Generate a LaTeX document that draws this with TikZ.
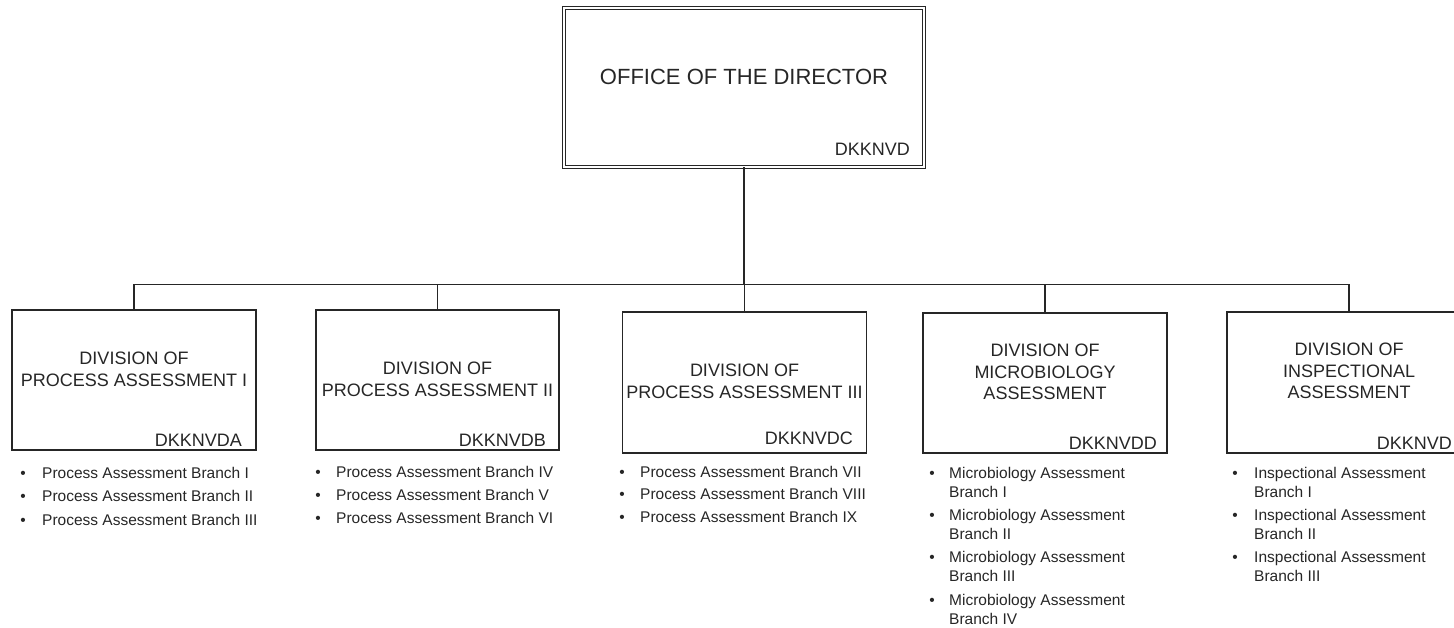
\documentclass[tikz,border=0pt]{standalone}
\usepackage{fontspec}
\setmainfont{Liberation Sans}
\newcommand{\stackL}[1]{\begin{tabular}[t]{@{}l@{}}#1\end{tabular}}
\newcommand{\stackC}[1]{\begin{tabular}[t]{@{}c@{}}#1\end{tabular}}
\begin{document}
\begin{tikzpicture}[x=1pt,y=-1pt,
  line/.style={draw=black!85, line width=1.5pt},
  divbox/.style={line, inner sep=0pt, outer sep=0pt, minimum width=244pt, minimum height=140pt},
  topbox/.style={draw=black!85, double, double distance=1.8pt, line width=1pt, inner sep=0pt, outer sep=0pt, minimum width=360.4pt, minimum height=159.4pt},
  ttl/.style={font=\fontsize{22}{26}\selectfont, anchor=base, inner sep=0pt, text=black!85},
  divttl/.style={font=\fontsize{18}{21.5}\selectfont, anchor=base, inner sep=0pt, text=black!85},
  code/.style={font=\fontsize{18}{21}\selectfont, anchor=base east, inner sep=0pt, text=black!85},
  itm/.style={font=\fontsize{15.5}{19}\selectfont, anchor=base west, inner sep=0pt, text=black!85},
  bul/.style={font=\fontsize{15.5}{19}\selectfont, anchor=base, inner sep=0pt, text=black!85},
]
\useasboundingbox (0,0) rectangle (1454,627);
\clip (0,0) rectangle (1454,627);

% top box
\node[topbox] (top) at (744,87.5) {};
\node[ttl] (toptitle) at (744,84) {OFFICE OF THE DIRECTOR};
\node[code] (topcode) at (910,155) {DKKNVD};

% division boxes
\node[divbox] (d1) at (134,380) {};
\node[divbox, minimum width=243pt] (d2) at (437.5,380) {};
\node[divbox, minimum height=141pt] (d3) at (744.5,382.5) {};
\node[divbox] (d4) at (1045,383) {};
\node[divbox, minimum height=141pt] (d5) at (1349,382.5) {};

% connectors
\coordinate (bus) at (744,284.5);
\draw[line] (top.south) -- (bus);
\draw[line] (d1.north) -- (d1.north |- bus) -- (d5.north |- bus) -- (d5.north);
\foreach \n in {d2,d3,d4} \draw[line] (\n.north) -- (\n.north |- bus);

% division titles
\node[divttl] (t1) at (134,364.5) {\stackC{DIVISION OF\\PROCESS ASSESSMENT I}};
\node[divttl] (t2) at (437.5,374.5) {\stackC{DIVISION OF\\PROCESS ASSESSMENT II}};
\node[divttl] (t3) at (744.5,376.5) {\stackC{DIVISION OF\\PROCESS ASSESSMENT III}};
\node[divttl] (t4) at (1045,356.5) {\stackC{DIVISION OF\\MICROBIOLOGY\\ASSESSMENT}};
\node[divttl] (t5) at (1349,355.5) {\stackC{DIVISION OF\\INSPECTIONAL\\ASSESSMENT}};

% codes
\node[code] (c1) at (242,446.5) {DKKNVDA};
\node[code] (c2) at (546,446.5) {DKKNVDB};
\node[code] (c3) at (853,444.5) {DKKNVDC};
\node[code] (c4) at (1157,449.5) {DKKNVDD};
\node[code] (c5) at (1452,449.5) {DKKNVD};

% list 1
\node[bul] (b11) at (23,478) {•};
\node[itm] (i11) at (42,478) {Process Assessment Branch I};
\node[bul] (b12) at (23,501.5) {•};
\node[itm] (i12) at (42,501.5) {Process Assessment Branch II};
\node[bul] (b13) at (23,525) {•};
\node[itm] (i13) at (42,525) {Process Assessment Branch III};

% list 2
\node[bul] (b21) at (318,477.5) {•};
\node[itm] (i21) at (336,477.5) {Process Assessment Branch IV};
\node[bul] (b22) at (318,500) {•};
\node[itm] (i22) at (336,500) {Process Assessment Branch V};
\node[bul] (b23) at (318,523) {•};
\node[itm] (i23) at (336,523) {Process Assessment Branch VI};

% list 3
\node[bul] (b31) at (622,477) {•};
\node[itm] (i31) at (640,477) {Process Assessment Branch VII};
\node[bul] (b32) at (622,499.5) {•};
\node[itm] (i32) at (640,499.5) {Process Assessment Branch VIII};
\node[bul] (b33) at (622,522.5) {•};
\node[itm] (i33) at (640,522.5) {Process Assessment Branch IX};

% list 4
\node[bul] (b41) at (932,478.5) {•};
\node[itm] (i41) at (949,478.5) {\stackL{Microbiology Assessment\\Branch I}};
\node[bul] (b42) at (932,520.5) {•};
\node[itm] (i42) at (949,520.5) {\stackL{Microbiology Assessment\\Branch II}};
\node[bul] (b43) at (932,562.5) {•};
\node[itm] (i43) at (949,562.5) {\stackL{Microbiology Assessment\\Branch III}};
\node[bul] (b44) at (932,605) {•};
\node[itm] (i44) at (949,605) {\stackL{Microbiology Assessment\\Branch IV}};

% list 5
\node[bul] (b51) at (1235,478.5) {•};
\node[itm] (i51) at (1254,478.5) {\stackL{Inspectional Assessment\\Branch I}};
\node[bul] (b52) at (1235,520.5) {•};
\node[itm] (i52) at (1254,520.5) {\stackL{Inspectional Assessment\\Branch II}};
\node[bul] (b53) at (1235,562.5) {•};
\node[itm] (i53) at (1254,562.5) {\stackL{Inspectional Assessment\\Branch III}};
\end{tikzpicture}
\end{document}
